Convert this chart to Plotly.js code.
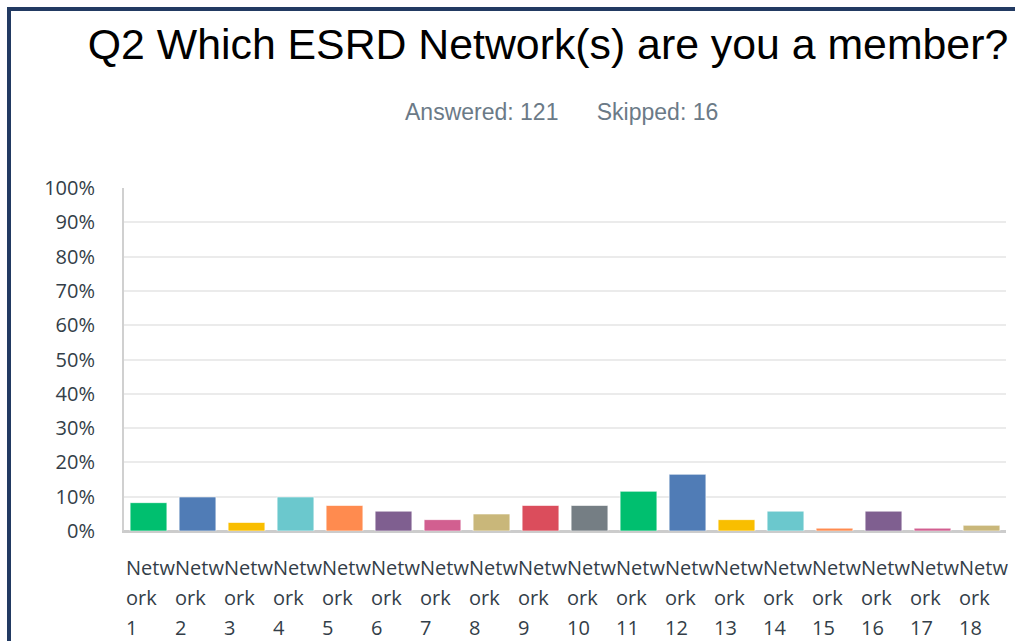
<!DOCTYPE html>
<html>
<head>
<meta charset="utf-8">
<script src="https://cdn.plot.ly/plotly-3.0.1.min.js"></script>
<style>
html,body{margin:0;padding:0;background:#fff;}
#wrap{position:relative;width:1015px;height:641px;overflow:hidden;}
#chart{width:1015px;height:641px;}
#frame{position:absolute;left:7px;top:7px;width:1100px;height:700px;border-top:4px solid #223a62;border-left:4px solid #223a62;pointer-events:none;}
</style>
</head>
<body>
<div id="wrap"><div id="chart"></div><div id="frame"></div></div>
<script>
const titleText = 'Q2 Which ESRD Network(s) are you a member?';
const subtitleText = 'Answered: 121&nbsp;&nbsp;&nbsp;&nbsp;&nbsp;&nbsp;Skipped: 16';
const categories = ['Network 1','Network 2','Network 3','Network 4','Network 5','Network 6','Network 7','Network 8','Network 9','Network 10','Network 11','Network 12','Network 13','Network 14','Network 15','Network 16','Network 17','Network 18'];
const labelLine1 = ['Netw','Netw','Netw','Netw','Netw','Netw','Netw','Netw','Netw','Netw','Netw','Netw','Netw','Netw','Netw','Netw','Netw','Netw'];
const labelLine2 = ['ork','ork','ork','ork','ork','ork','ork','ork','ork','ork','ork','ork','ork','ork','ork','ork','ork','ork'];
const labelLine3 = ['1','2','3','4','5','6','7','8','9','10','11','12','13','14','15','16','17','18'];
const values = [8.26, 9.92, 2.48, 9.92, 7.44, 5.79, 3.31, 4.96, 7.44, 7.44, 11.57, 16.53, 3.31, 5.79, 0.83, 5.79, 0.83, 1.65];
const colors = ['#00BF6F','#507CB6','#F9BE00','#6BC8CD','#FF8B4F','#7F5F90','#D25F90','#C9B77A','#DB4D5C','#757E84','#00BF6F','#507CB6','#F9BE00','#6BC8CD','#FF8B4F','#7F5F90','#D25F90','#C9B77A'];
const yTickVals = [0,10,20,30,40,50,60,70,80,90,100];
const yTickText = ['0%','10%','20%','30%','40%','50%','60%','70%','80%','90%','100%'];

const tickFont = {family: 'Open Sans, sans-serif', size: 20, color: '#333e48'};
const xLabelFont = {family: 'Open Sans, sans-serif', size: 20, color: '#333e48'};

const annotations = [{
  text: subtitleText, xref: 'paper', yref: 'paper',
  x: (403 - 124) / 882, y: (531 - 112) / 343, xanchor: 'left', yanchor: 'middle',
  showarrow: false, font: {family: 'Liberation Sans, Arial, sans-serif', size: 23, color: '#6b7a87'}
}];
const lines = [labelLine1, labelLine2, labelLine3];
const shifts = [-36, -66, -96];
lines.forEach((arr, li) => {
  arr.forEach((t, i) => {
    annotations.push({
      text: t, xref: 'x', yref: 'paper', x: i - 0.49, y: 0,
      xanchor: 'left', yanchor: 'middle', yshift: shifts[li],
      showarrow: false, align: 'left', font: xLabelFont
    });
  });
});

const data = [{
  type: 'bar', x: categories, y: values,
  marker: {color: colors, line: {color: 'rgba(255,255,255,0.6)', width: 1}},
  hoverinfo: 'x+y'
}];

const layout = {
  width: 1015, height: 641,
  margin: {l: 124, r: 9, t: 188, b: 110},
  paper_bgcolor: '#ffffff', plot_bgcolor: '#ffffff',
  title: {text: titleText, xref: 'container', yref: 'container', x: 548/1015, y: 1 - 44/641,
    xanchor: 'center', yanchor: 'middle',
    font: {family: 'Liberation Sans, Arial, sans-serif', size: 42.8, color: '#000000'}},
  showlegend: false,
  bargap: 0.25,
  xaxis: {type: 'category', range: [-0.5, 17.5], showticklabels: false, showgrid: false,
    zeroline: false, showline: true, linecolor: '#cccccc', linewidth: 2, ticks: ''},
  yaxis: {range: [0, 100], tickmode: 'array', tickvals: yTickVals, ticktext: yTickText, tickfont: tickFont,
    showgrid: true, gridcolor: '#ebebeb', gridwidth: 2,
    zeroline: true, zerolinecolor: '#cccccc', zerolinewidth: 2,
    showline: true, linecolor: '#d0d0d0', linewidth: 2,
    ticks: 'outside', ticklen: 23, tickcolor: 'rgba(0,0,0,0)'},
  annotations: annotations
};

Plotly.newPlot('chart', data, layout, {displayModeBar: false, staticPlot: true});
</script>
</body>
</html>
